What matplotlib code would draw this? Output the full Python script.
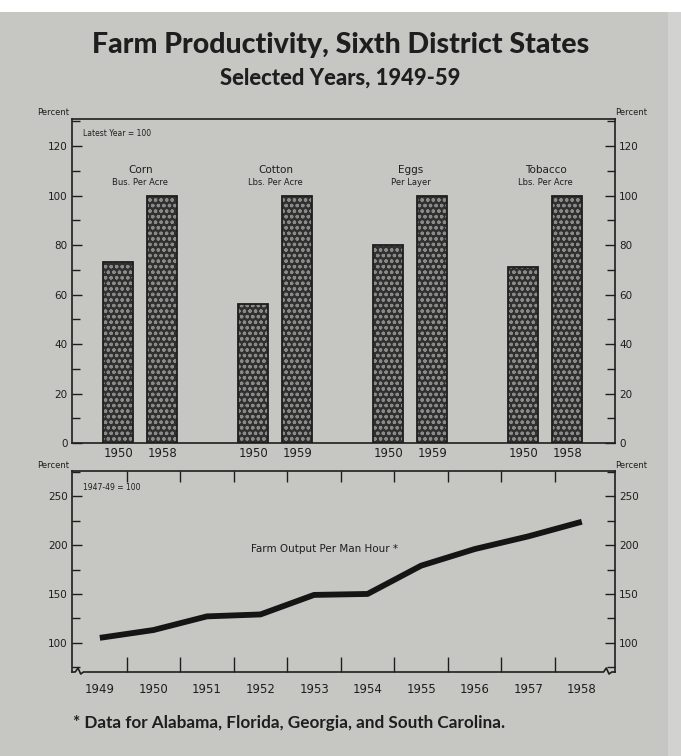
import numpy as np
import matplotlib.pyplot as plt
from matplotlib.patches import Rectangle
from matplotlib.ticker import MultipleLocator

# crop yields, index with latest year = 100
crops = ["Corn", "Cotton", "Eggs", "Tobacco"]
units = ["Bus. Per Acre", "Lbs. Per Acre", "Per Layer", "Lbs. Per Acre"]
early_year = ["1950", "1950", "1950", "1950"]
late_year = ["1958", "1959", "1959", "1958"]
early_vals = [73, 56, 80, 71]
late_vals = [100, 100, 100, 100]

# farm output per man hour, 1947-49 = 100
years = [1949, 1950, 1951, 1952, 1953, 1954, 1955, 1956, 1957, 1958]
output = [105, 113, 127, 129, 149, 150, 179, 196, 209, 224]

bg = "#c6c6c3"
ink = "#1e1e1e"
plt.rcParams["font.family"] = ["DejaVu Sans"]
plt.rcParams["hatch.linewidth"] = 0.9

fig = plt.figure(figsize=(6.81, 7.56), dpi=100, facecolor="white")
fig.patches.append(Rectangle((0, 0), 1, 1 - 12 / 756, transform=fig.transFigure,
                             facecolor=bg, edgecolor="none", zorder=-10))
fig.patches.append(Rectangle((668 / 681, 0), 13 / 681, 1 - 12 / 756, transform=fig.transFigure,
                             facecolor="#d2d2d0", edgecolor="none", zorder=-9))

fig.text(0.5, 1 - 45 / 756, "Farm Productivity, Sixth District States", ha="center", va="center",
         fontsize=20.5, fontweight="black", family="Lato", color=ink)
fig.text(0.5, 1 - 78 / 756, "Selected Years, 1949-59", ha="center", va="center",
         fontsize=15.8, fontweight="black", family="Lato", color=ink)

# ---- bar panel ----
ax1 = fig.add_axes([72 / 681, 1 - 443 / 756, 543 / 681, 324 / 756])
ax1.set_facecolor("none")
x = np.arange(len(crops))
off, w = 0.163, 0.222
for xs, vals in ((x - off, early_vals), (x + off, late_vals)):
    ax1.bar(xs, vals, width=w, color="#303030", edgecolor="none", zorder=2)
    ax1.bar(xs, vals, width=w, color="none", edgecolor="#8a8a88", hatch="ooo",
            linewidth=0, zorder=3)
    ax1.bar(xs, vals, width=w, color="none", edgecolor=ink, linewidth=1.3, zorder=4)

ax1.set_xlim(-0.507, 3.515)
ax1.set_ylim(0, 131)
ax1.set_xticks(np.concatenate([x - off, x + off]))
ax1.set_xticklabels(early_year + late_year, fontsize=8.5, color=ink)
ax1.tick_params(axis="x", length=0, pad=3)
ax1.yaxis.set_major_locator(MultipleLocator(20))
ax1.yaxis.set_minor_locator(MultipleLocator(10))
ax1.tick_params(axis="y", which="both", direction="in", left=True, right=True,
                labelleft=True, labelright=True, labelsize=7.5, labelcolor=ink,
                color=ink, width=1, pad=3)
ax1.tick_params(axis="y", which="major", length=7)
ax1.tick_params(axis="y", which="minor", length=6)
for s in ax1.spines.values():
    s.set_color(ink)
    s.set_linewidth(1.2)

for i, (c, u) in enumerate(zip(crops, units)):
    ax1.text(x[i], 110.5, c, ha="center", va="center", fontsize=7.5, color=ink)
    ax1.text(x[i], 105.2, u, ha="center", va="center", fontsize=6, color=ink)
ax1.text(0.02, 0.955, "Latest Year = 100", transform=ax1.transAxes, fontsize=5.5,
         color=ink, va="center")
ax1.text(-0.005, 1.005, "Percent", transform=ax1.transAxes, ha="right", va="bottom",
         fontsize=6, color=ink)
ax1.text(1.0, 1.005, "Percent", transform=ax1.transAxes, ha="left", va="bottom",
         fontsize=6, color=ink)

# ---- line panel ----
ax2 = fig.add_axes([72 / 681, 1 - 672 / 756, 543 / 681, 201 / 756])
ax2.set_facecolor("none")
ax2.plot(years, output, color="#151515", linewidth=4.2, solid_capstyle="butt",
         solid_joinstyle="round", zorder=3)
ax2.set_xlim(1948.48, 1958.62)
ax2.set_ylim(70, 276)
ax2.set_xticks(years)
ax2.set_xticklabels([str(y) for y in years], fontsize=8.5, color=ink)
half_years = np.array(years[:-1]) + 0.5
ax2.set_xticks(half_years, minor=True)
ax2.tick_params(axis="x", which="major", length=0, pad=8)
ax2.tick_params(axis="x", which="minor", direction="in", bottom=True, top=False,
                length=11, width=1, color=ink)
top = ax2.secondary_xaxis("top")
top.set_xticks(half_years)
top.tick_params(direction="in", length=8, width=1, color=ink, labeltop=False)
top.spines["top"].set_visible(False)

ax2.set_yticks([100, 150, 200, 250])
ax2.yaxis.set_minor_locator(MultipleLocator(25))
ax2.tick_params(axis="y", which="both", direction="in", left=True, right=True,
                labelleft=True, labelright=True, labelsize=7.5, labelcolor=ink,
                color=ink, width=1, pad=3)
ax2.tick_params(axis="y", which="major", length=7)
ax2.tick_params(axis="y", which="minor", length=6)
for s in ax2.spines.values():
    s.set_color(ink)
    s.set_linewidth(1.2)

# bottom axis with scale-break wiggles at both ends
ax2.spines["bottom"].set_visible(False)
bx = [0, 0.006, 0.011, 0.016, 0.021, 0.979, 0.984, 0.989, 0.994, 1.0]
by = [0, 0.0, 0.02, -0.01, 0.0, 0.0, 0.02, -0.01, 0.0, 0]
ax2.plot(bx, by, transform=ax2.transAxes, color=ink, linewidth=1.2, clip_on=False)

ax2.text(1953.2, 196, "Farm Output Per Man Hour *", ha="center", va="center",
         fontsize=7.5, color=ink)
ax2.text(0.02, 0.92, "1947-49 = 100", transform=ax2.transAxes, fontsize=5.5,
         color=ink, va="center")
ax2.text(-0.005, 1.005, "Percent", transform=ax2.transAxes, ha="right", va="bottom",
         fontsize=6, color=ink)
ax2.text(1.0, 1.005, "Percent", transform=ax2.transAxes, ha="left", va="bottom",
         fontsize=6, color=ink)

fig.text(73 / 681, 1 - 723 / 756, "* Data for Alabama, Florida, Georgia, and South Carolina.",
         ha="left", va="center", fontsize=12.3, fontweight="bold", family="Lato", color=ink)

fig.savefig("out.png", dpi=100, facecolor=fig.get_facecolor())
